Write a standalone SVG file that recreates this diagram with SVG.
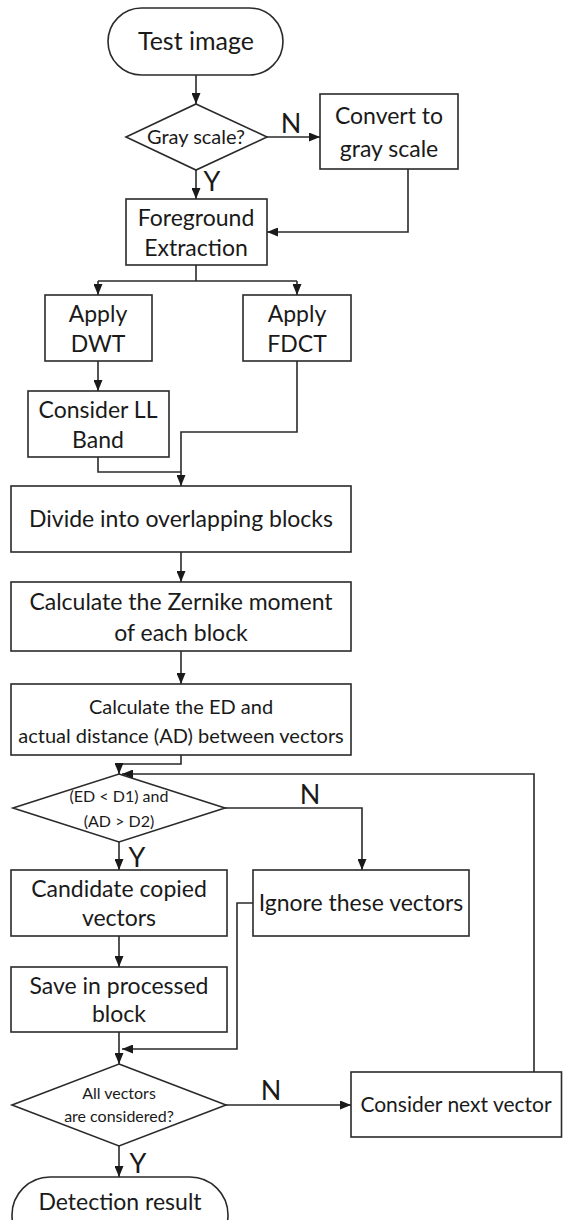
<svg xmlns="http://www.w3.org/2000/svg" width="563" height="1220" viewBox="0 0 563 1220">
<defs>
<marker id="ah" markerUnits="userSpaceOnUse" markerWidth="11" markerHeight="9" refX="11" refY="4.5" orient="auto">
<path d="M0,0 L11,4.5 L0,9 z" fill="#1a1a1a"/>
</marker>
<style>
.s{fill:#fff;stroke:#2a2a2a;stroke-width:1.6}
.t{font-family:Lato,"Liberation Sans",sans-serif;font-size:23px;fill:#1a1a1a;text-anchor:middle}
.m{font-size:20px}
.sm{font-size:16px}
.lb{font-family:Lato,"Liberation Sans",sans-serif;font-size:27px;fill:#1a1a1a;text-anchor:middle}
.c{fill:none;stroke:#2a2a2a;stroke-width:1.6}
.a{marker-end:url(#ah)}
</style>
</defs>
<rect width="563" height="1220" fill="#fff"/>
<g id="connectors">
<path class="c a" d="M196,75 V104"/>
<path class="c a" d="M267,137 H320"/>
<path class="c a" d="M196,170 V199"/>
<path class="c a" d="M408,169 V232 H267"/>
<path class="c" d="M196,265 V281 M98,281 H297"/>
<path class="c a" d="M98,281 V295"/>
<path class="c a" d="M297,281 V295"/>
<path class="c a" d="M98,361 V391"/>
<path class="c a" d="M297,361 V432 H181 V486"/>
<path class="c" d="M98,457 V472 H181"/>
<path class="c a" d="M181,552 V582"/>
<path class="c a" d="M181,651 V684"/>
<path class="c a" d="M181,755 V764 H119 V774"/>
<path class="c a" d="M534,1072 V774 H122"/>
<path class="c a" d="M225,808 H362 V870"/>
<path class="c a" d="M119,842 V870"/>
<path class="c a" d="M253,903 H237 V1049 H122"/>
<path class="c a" d="M119,936 V967"/>
<path class="c a" d="M119,1032 V1064"/>
<path class="c a" d="M226,1105 H351"/>
<path class="c a" d="M119,1146 V1177"/>
</g>
<g id="labels">
<text class="lb" x="291" y="133">N</text>
<text class="lb" x="212" y="191">Y</text>
<text class="lb" x="310" y="804">N</text>
<text class="lb" x="137" y="867">Y</text>
<text class="lb" x="271" y="1100">N</text>
<text class="lb" x="138" y="1173">Y</text>
</g>
<g id="start"><rect class="s" x="108" y="8" width="175" height="67" rx="33.5"/><text class="t" x="196" y="50" style="font-size:25px">Test image</text></g>
<g id="gray"><polygon class="s" points="196,104 267,137 196,170 126,137"/><text class="t m" x="196" y="144">Gray scale?</text></g>
<g id="convert"><rect class="s" x="320" y="94" width="138" height="75"/><text class="t" x="389" y="124">Convert to</text><text class="t" x="389" y="157">gray scale</text></g>
<g id="foreground"><rect class="s" x="126" y="199" width="141" height="66"/><text class="t" x="196" y="226">Foreground</text><text class="t" x="196" y="256">Extraction</text></g>
<g id="dwt"><rect class="s" x="45" y="295" width="107" height="66"/><text class="t" x="98" y="322">Apply</text><text class="t" x="98" y="352">DWT</text></g>
<g id="fdct"><rect class="s" x="243" y="295" width="108" height="66"/><text class="t" x="297" y="322">Apply</text><text class="t" x="297" y="352">FDCT</text></g>
<g id="ll"><rect class="s" x="28" y="391" width="141" height="66"/><text class="t" x="98" y="418">Consider LL</text><text class="t" x="98" y="448">Band</text></g>
<g id="divide"><rect class="s" x="11" y="486" width="340" height="66"/><text class="t" x="181" y="527">Divide into overlapping blocks</text></g>
<g id="zernike"><rect class="s" x="11" y="582" width="340" height="69"/><text class="t" x="181" y="610">Calculate the Zernike moment</text><text class="t" x="181" y="641">of each block</text></g>
<g id="ed"><rect class="s" x="11" y="684" width="340" height="71"/><text class="t m" x="181" y="714">Calculate the ED and</text><text class="t m" x="181" y="743">actual distance (AD) between vectors</text></g>
<g id="cond"><polygon class="s" points="119,774 225,808 119,842 13,808"/><text class="t sm" x="119" y="802">(ED &lt; D1) and</text><text class="t sm" x="119" y="827">(AD &gt; D2)</text></g>
<g id="candidate"><rect class="s" x="11" y="870" width="216" height="66"/><text class="t" x="119" y="897">Candidate copied</text><text class="t" x="119" y="926">vectors</text></g>
<g id="ignore"><rect class="s" x="253" y="870" width="216" height="66"/><text class="t" x="361" y="911">Ignore these vectors</text></g>
<g id="save"><rect class="s" x="11" y="967" width="216" height="65"/><text class="t" x="119" y="994">Save in processed</text><text class="t" x="119" y="1022">block</text></g>
<g id="all"><polygon class="s" points="119,1064 226,1105 119,1146 12,1105"/><text class="t sm" x="119" y="1099">All vectors</text><text class="t sm" x="119" y="1122">are considered?</text></g>
<g id="next"><rect class="s" x="351" y="1072" width="210.5" height="65"/><text class="t" x="456" y="1112" style="font-size:21px">Consider next vector</text></g>
<g id="end"><rect class="s" x="12" y="1177" width="216" height="76" rx="38"/><text class="t" x="120" y="1210">Detection result</text></g>
</svg>
